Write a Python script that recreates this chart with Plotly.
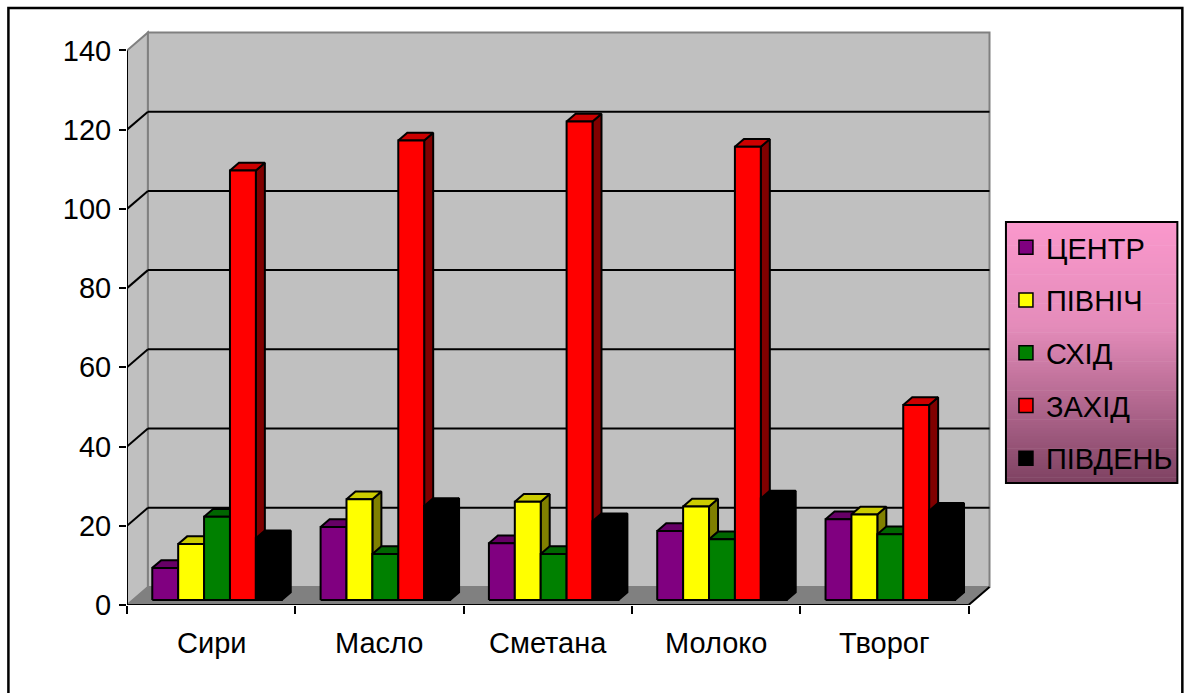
import plotly.graph_objects as go

# ---- data -------------------------------------------------------------
categories = ["Сири", "Масло", "Сметана", "Молоко", "Творог"]
series_names = ["ЦЕНТР", "ПІВНІЧ", "СХІД", "ЗАХІД", "ПІВДЕНЬ"]
centr = [8.1, 18.4, 14.3, 17.4, 20.4]
pivnich = [14.1, 25.4, 24.8, 23.6, 21.6]
skhid = [21.0, 11.6, 11.6, 15.3, 16.6]
zakhid = [108.4, 116.0, 120.8, 114.4, 49.2]
pivden = [15.6, 23.7, 19.9, 25.6, 22.5]
y_ticks = [0, 20, 40, 60, 80, 100, 120, 140]

series_values = [centr, pivnich, skhid, zakhid, pivden]
front_colors = ["#800080", "#FFFF00", "#008000", "#FF0000", "#000000"]
top_colors = ["#660066", "#CCCC00", "#006600", "#CC0000", "#000000"]
side_colors = ["#400040", "#808000", "#004000", "#800000", "#000000"]

# ---- layout geometry (pixels) ------------------------------------------
W, H = 1190, 693
PL, PR, PT, PB = 127, 995, 30, 605          # plot area edges
XS = 168.9                                  # px per category
YS = 3.961                                  # px per value unit
X_MAX = (PR - PL) / XS
Y_MAX = (PB - PT) / YS

# depth of the 3-D box, in data units
DX = 21 / XS
DY = 18 / YS
# bars sit between these depth fractions
F0, FD = 0.28, 0.43
GROUP = 1 / 1.3
GAP_OFF = (1 - GROUP) / 2
BW = GROUP / len(series_names)
N = len(categories)
Y_TOP = y_ticks[-1]


def px_x(p):
    return (p - PL) / (PR - PL)


def px_y(p):
    return (PB - p) / (PB - PT)


fig = go.Figure()

# ---- bars as 3-D prisms: side, top, front faces per series --------------
bx0 = F0 * DX
by0 = F0 * DY
ddx, ddy = FD * DX, FD * DY
for k, vals in enumerate(series_values):
    side_x, side_y, top_x, top_y, fr_x, fr_y = [], [], [], [], [], []
    for i, v in enumerate(vals):
        x0 = i + GAP_OFF + k * BW + bx0
        x1 = x0 + BW
        b = by0
        t = by0 + v
        side_x += [x1, x1 + ddx, x1 + ddx, x1, x1, None]
        side_y += [b, b + ddy, t + ddy, t, b, None]
        top_x += [x0, x1, x1 + ddx, x0 + ddx, x0, None]
        top_y += [t, t, t + ddy, t + ddy, t, None]
        fr_x += [x0, x1, x1, x0, x0, None]
        fr_y += [b, b, t, t, b, None]
    for xs, ys, col in ((side_x, side_y, side_colors[k]),
                        (top_x, top_y, top_colors[k]),
                        (fr_x, fr_y, front_colors[k])):
        fig.add_trace(go.Scatter(
            x=xs, y=ys, mode="lines", fill="toself", fillcolor=col,
            line=dict(color="black", width=2), showlegend=False,
            hoverinfo="skip"))

# legend entries
for k, name in enumerate(series_names):
    fig.add_trace(go.Scatter(
        x=[None], y=[None], mode="markers", name=name,
        legendgroup=name,
        marker=dict(symbol="square", size=14, color=front_colors[k],
                    line=dict(color="black", width=1.5))))

# ---- walls, floor and gridlines -------------------------------------------
shapes = []
# left wall
shapes.append(dict(type="path", xref="x", yref="y", layer="below",
                   path=f"M0,0 L{DX},{DY} L{DX},{Y_TOP + DY} L0,{Y_TOP} Z",
                   fillcolor="#C0C0C0", line=dict(color="#808080", width=2)))
# back wall
shapes.append(dict(type="path", xref="x", yref="y", layer="below",
                   path=f"M{DX},{DY} L{N + DX},{DY} L{N + DX},{Y_TOP + DY} L{DX},{Y_TOP + DY} Z",
                   fillcolor="#C0C0C0", line=dict(color="#808080", width=2)))
# floor
shapes.append(dict(type="path", xref="x", yref="y", layer="below",
                   path=f"M0,0 L{N},0 L{N + DX},{DY} L{DX},{DY} Z",
                   fillcolor="#808080", line=dict(color="#808080", width=1)))
# gridlines on back and left walls
for v in y_ticks[1:-1]:
    shapes.append(dict(type="line", xref="x", yref="y", layer="below",
                       x0=DX, x1=N + DX, y0=v + DY, y1=v + DY,
                       line=dict(color="black", width=2)))
    shapes.append(dict(type="line", xref="x", yref="y", layer="below",
                       x0=0, x1=DX, y0=v, y1=v + DY,
                       line=dict(color="black", width=2)))
# value axis and category axis lines
shapes.append(dict(type="line", xref="x", yref="y", layer="below",
                   x0=0, x1=0, y0=0, y1=Y_TOP, line=dict(color="black", width=2)))
shapes.append(dict(type="line", xref="x", yref="y", layer="below",
                   x0=0, x1=N, y0=0, y1=0, line=dict(color="black", width=2)))
shapes.append(dict(type="line", xref="x", yref="y", layer="below",
                   x0=N, x1=N + DX, y0=0, y1=DY, line=dict(color="black", width=2)))

# legend background: vertical pink-to-plum gradient built from stripes
LX0, LX1, LY0, LY1 = 1009, 1181, 222, 483
stops = [(0.0, (250, 152, 204)), (0.4, (228, 140, 186)), (1.0, (126, 66, 98))]


def grad(t):
    for (t0, c0), (t1, c1) in zip(stops[:-1], stops[1:]):
        if t <= t1:
            u = (t - t0) / (t1 - t0)
            return "rgb(%d,%d,%d)" % tuple(round(a + (b - a) * u) for a, b in zip(c0, c1))
    return "rgb(%d,%d,%d)" % stops[-1][1]


NS = 90
for s in range(NS):
    ya = LY0 + (LY1 - LY0) * s / NS
    yb = LY0 + (LY1 - LY0) * (s + 1) / NS + 0.6
    shapes.append(dict(type="rect", xref="paper", yref="paper", layer="above",
                       x0=px_x(LX0), x1=px_x(LX1), y0=px_y(yb), y1=px_y(ya),
                       fillcolor=grad((s + 0.5) / NS), line=dict(width=0)))
shapes.append(dict(type="rect", xref="paper", yref="paper", layer="above",
                   x0=px_x(LX0), x1=px_x(LX1), y0=px_y(LY1), y1=px_y(LY0),
                   fillcolor="rgba(0,0,0,0)", line=dict(color="black", width=2)))
# chart border
shapes.append(dict(type="rect", xref="paper", yref="paper", layer="above",
                   x0=px_x(8), x1=px_x(1186), y0=px_y(703), y1=px_y(8),
                   fillcolor="rgba(0,0,0,0)", line=dict(color="black", width=2.5)))

# category labels
annotations = [dict(x=i + 0.5, y=0, xref="x", yref="y", text=c, showarrow=False,
                    yanchor="top", yshift=-20,
                    font=dict(family="Arial, Liberation Sans", size=29, color="black"))
               for i, c in enumerate(categories)]

FONT = "Arial, Liberation Sans"
fig.update_layout(
    width=W, height=H,
    margin=dict(l=PL, r=W - PR, t=PT, b=H - PB, pad=0),
    paper_bgcolor="white", plot_bgcolor="rgba(0,0,0,0)",
    font=dict(family=FONT, size=29, color="black"),
    shapes=shapes, annotations=annotations,
    xaxis=dict(range=[0, X_MAX], showgrid=False, zeroline=False, showline=False,
               tickmode="linear", tick0=0, dtick=1, ticks="outside", ticklen=8,
               tickwidth=2, tickcolor="black", showticklabels=False, fixedrange=True),
    yaxis=dict(range=[0, Y_MAX], showgrid=False, zeroline=False, showline=False,
               tickmode="array", tickvals=y_ticks, ticks="outside", ticklen=7,
               tickwidth=2, tickcolor="black", ticklabelstandoff=2,
               tickfont=dict(family=FONT, size=29, color="black"), fixedrange=True),
    showlegend=True,
    legend=dict(x=px_x(LX0), xanchor="left", y=px_y(LY0), yanchor="top",
                bgcolor="rgba(0,0,0,0)", borderwidth=0, tracegroupgap=12,
                font=dict(family=FONT, size=29, color="black"),
                itemsizing="trace"),
)

fig.write_html("out.html")
